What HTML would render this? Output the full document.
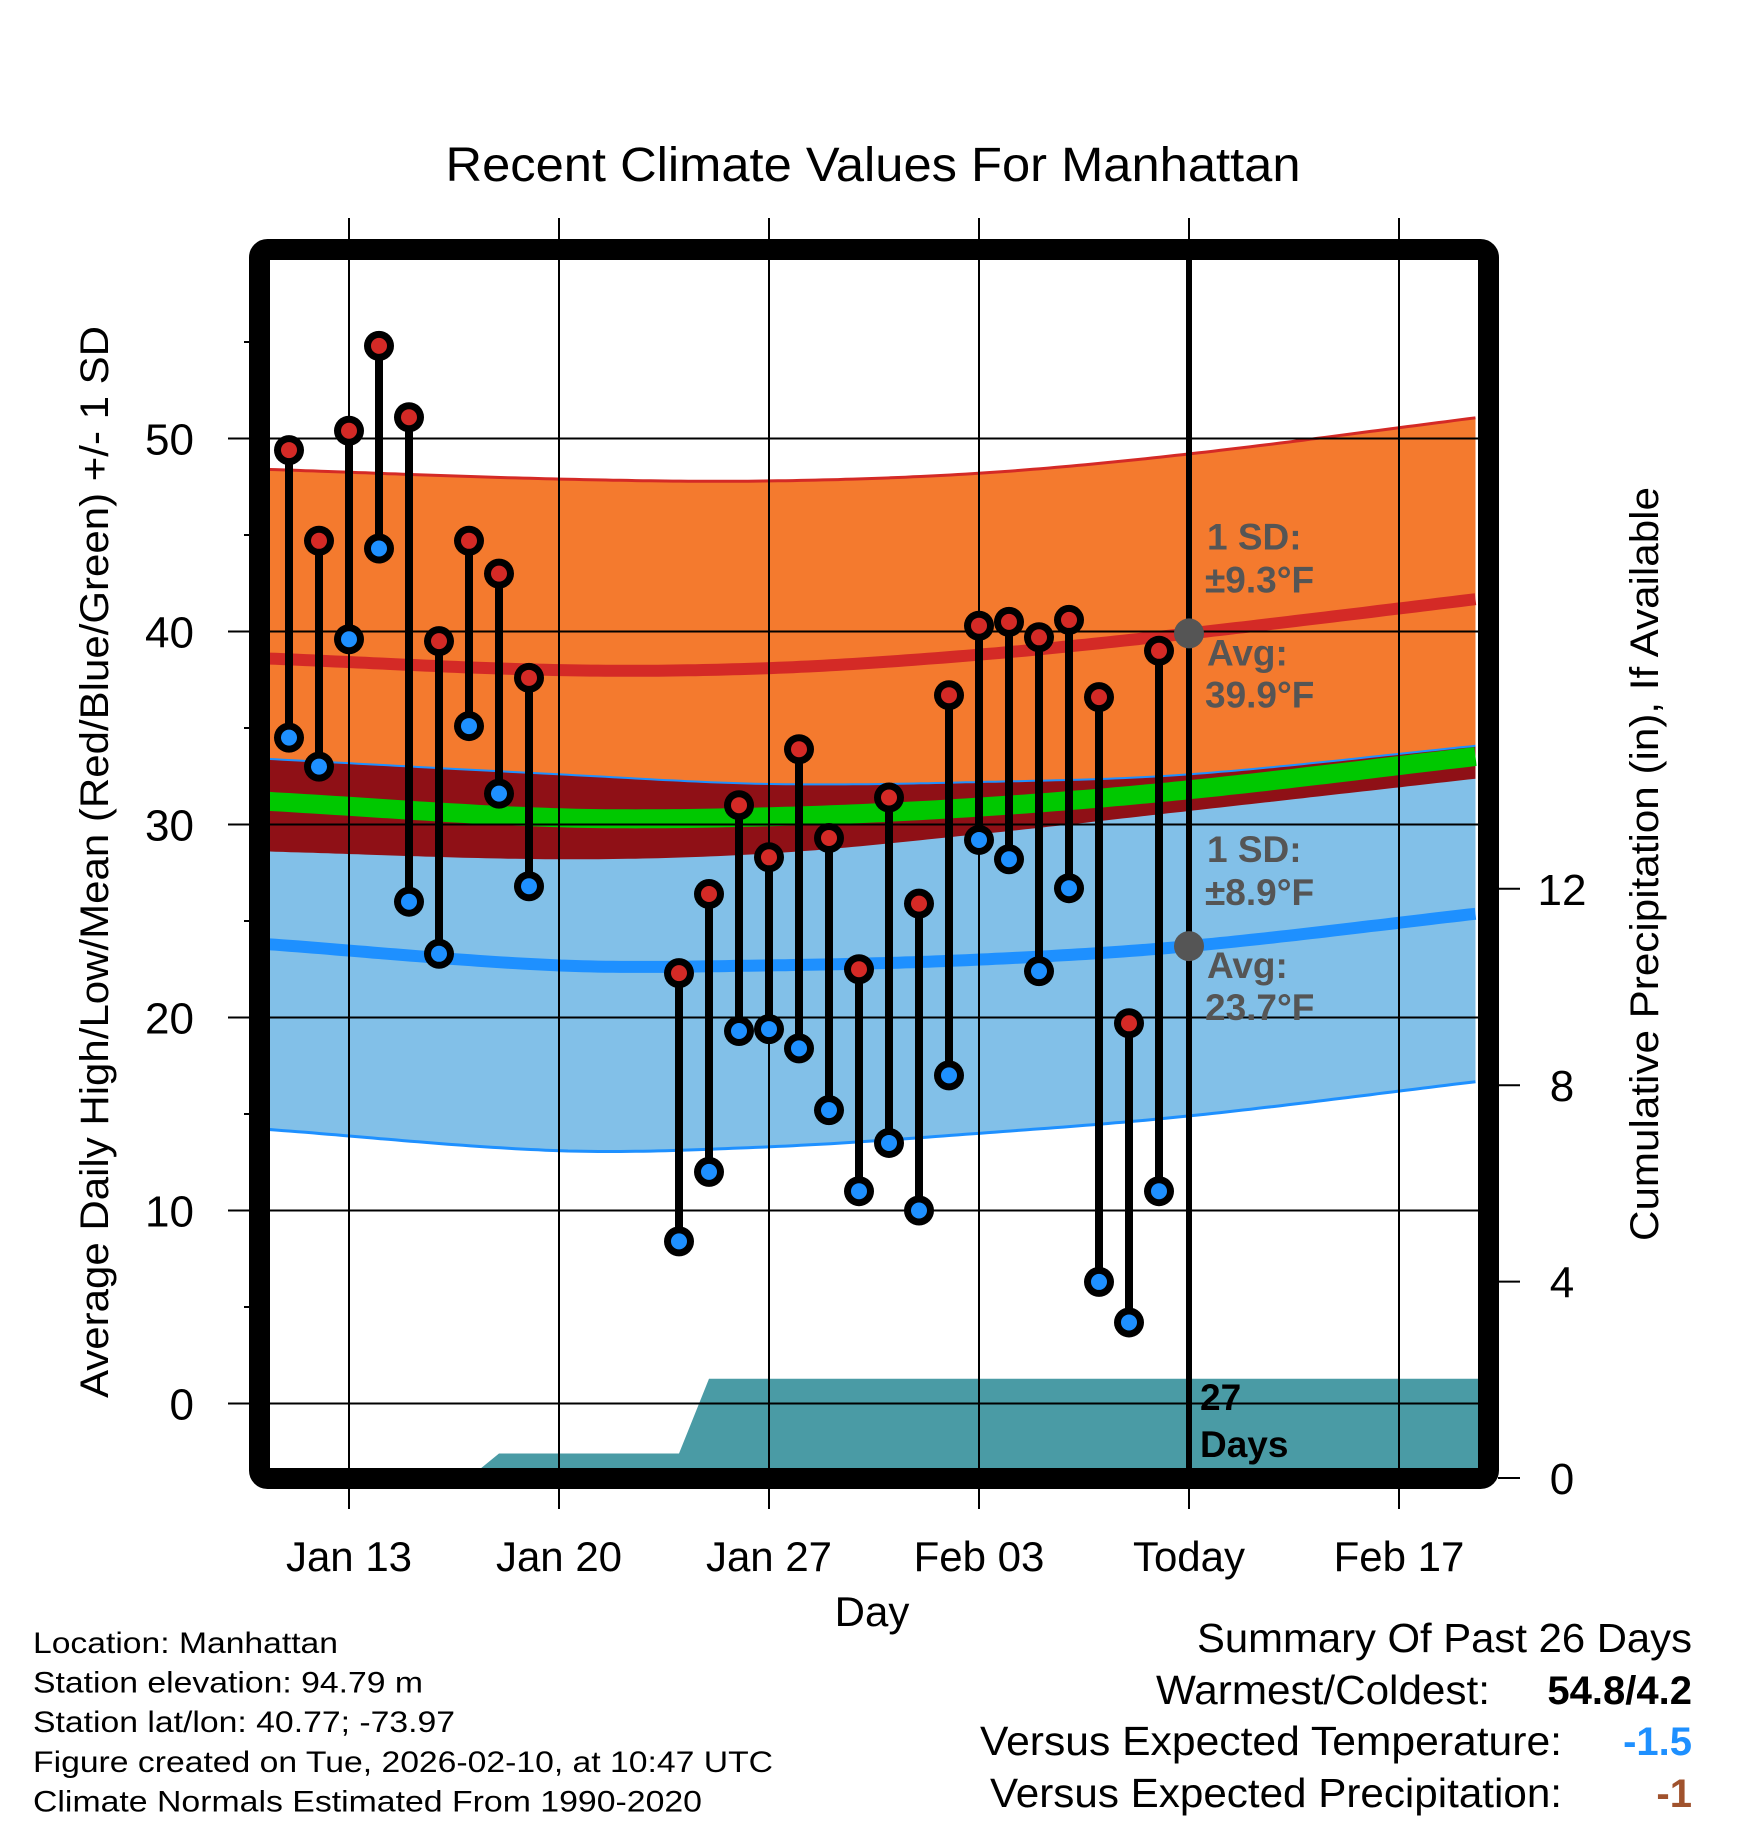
<!DOCTYPE html>
<html><head><meta charset="utf-8">
<style>
html,body{margin:0;padding:0;background:#fff;}
svg{display:block;font-family:"Liberation Sans",Arial,sans-serif;}
</style></head>
<body>
<svg id="chart" width="1748" height="1828" viewBox="0 0 1748 1828" xmlns="http://www.w3.org/2000/svg">
<defs><clipPath id="plotclip"><rect x="270" y="260" width="1208" height="1208"/></clipPath></defs>
<g id="plot" clip-path="url(#plotclip)"></g>
<g id="over"></g>
</svg>
<script>
// ---- data ----
const dayLabels = ["Jan 13","Jan 20","Jan 27","Feb 03","Today","Feb 17"];
const dayLabelIdx = [2,9,16,23,30,37];
const obsDays = [0,1,2,3,4,5,6,7,8,13,14,15,16,17,18,19,20,21,22,23,24,25,26,27,28,29];
const highs = [49.4,44.7,50.4,54.8,51.1,39.5,44.7,43.0,37.6,22.3,26.4,31.0,28.3,33.9,29.3,22.5,31.4,25.9,36.7,40.3,40.5,39.7,40.6,36.6,19.7,39.0];
const lows  = [34.5,33.0,39.6,44.3,26.0,23.3,35.1,31.6,26.8,8.4,12.0,19.3,19.4,18.4,15.2,11.0,13.5,10.0,17.0,29.2,28.2,22.4,26.7,6.3,4.2,11.0];
const normDays  = [-0.7,9,16,23,30,39.7];
const normHigh  = [38.6,38.0,38.1,38.8,39.9,41.7];
const highUpper = [48.4,47.9,47.8,48.2,49.2,51.1];
const highLower = [28.6,28.2,28.5,29.5,30.7,32.4];
const normLow   = [23.8,22.7,22.7,23.0,23.7,25.4];
const lowUpper  = [33.4,32.6,32.1,32.2,32.6,34.1];
const lowLower  = [14.2,13.1,13.3,14.0,14.9,16.7];
const precipDays = [-0.7,6,7,13,14,39.7];
const precipCum  = [0,0,0.5,0.5,2.02,2.02];
const yTicks = [0,10,20,30,40,50];
const pTicks = [0,4,8,12];

// ---- scales ----
const X = d => 289 + 30*d;
const Y = v => 1403.5 - 19.3*v;
const P = v => 1478 - 49.1*v;
const NS = "http://www.w3.org/2000/svg";
const plot = document.getElementById('plot');
const over = document.getElementById('over');
function mk(parent, tag, attrs, text){
  const e = document.createElementNS(NS, tag);
  for (const k in attrs) e.setAttribute(k, attrs[k]);
  if (text !== undefined) e.textContent = text;
  parent.appendChild(e); return e;
}
function interp(xs, ys, d){
  if (d <= xs[0]) return ys[0];
  for (let i=1;i<xs.length;i++) if (d <= xs[i]) { const t=(d-xs[i-1])/(xs[i]-xs[i-1]); return ys[i-1]+t*(ys[i]-ys[i-1]); }
  return ys[ys.length-1];
}
// smooth (Catmull-Rom style Hermite) interpolation
function smooth(xs, ys, d){
  const n = xs.length;
  let i = 1; while (i < n-1 && d > xs[i]) i++;
  const x0=xs[i-1], x1=xs[i], y0=ys[i-1], y1=ys[i];
  const slope = k => {
    if (k===0) return (ys[1]-ys[0])/(xs[1]-xs[0]);
    if (k===n-1) return (ys[n-1]-ys[n-2])/(xs[n-1]-xs[n-2]);
    return (ys[k+1]-ys[k-1])/(xs[k+1]-xs[k-1]);
  };
  const h = x1-x0, t = Math.max(0,Math.min(1,(d-x0)/h));
  const m0 = slope(i-1)*h, m1 = slope(i)*h;
  const t2=t*t, t3=t2*t;
  return (2*t3-3*t2+1)*y0 + (t3-2*t2+t)*m0 + (-2*t3+3*t2)*y1 + (t3-t2)*m1;
}
const samples = []; for (let d=-0.7; d<=39.75; d+=0.25) samples.push(d);
const F = arr => d => smooth(normDays, arr, d);
const hm = F(normHigh), lm = F(normLow), hu = F(highUpper), hl = F(highLower), lu = F(lowUpper), ll = F(lowLower);
function band(f1, f2){
  let s = samples.map((d,i)=>(i?'L':'M')+X(d).toFixed(1)+','+Y(f1(d)).toFixed(1)).join('');
  s += samples.slice().reverse().map(d=>'L'+X(d).toFixed(1)+','+Y(f2(d)).toFixed(1)).join('');
  return s+'Z';
}
function line(f){ return samples.map((d,i)=>(i?'L':'M')+X(d).toFixed(1)+','+Y(f(d)).toFixed(1)).join(''); }

let e;
e = mk(plot,'path',{d:band(hu,hl),fill:'#f47a2e'});
 
e = mk(plot,'path',{d:band(lu,ll),fill:'#82c0e8'});
 
e = mk(plot,'path',{d:band(lu,hl),fill:'#8f1016'});
 
e = mk(plot,'path',{d:line(hu),fill:'none',stroke:'#d42a26','stroke-width':3});
 
e = mk(plot,'path',{d:line(lu),fill:'none',stroke:'#1e90ff','stroke-width':2});
 
e = mk(plot,'path',{d:line(ll),fill:'none',stroke:'#1e90ff','stroke-width':3});
 
e = mk(plot,'path',{d:line(d=>(hm(d)+lm(d))/2),fill:'none',stroke:'#00c800','stroke-width':19});
 
e = mk(plot,'path',{d:line(hm),fill:'none',stroke:'#d42a26','stroke-width':12});
 
e = mk(plot,'path',{d:line(lm),fill:'none',stroke:'#1e90ff','stroke-width':12});
 

// precip area
let pd = 'M'+X(precipDays[0])+','+P(0);
precipDays.forEach((d,i)=>{ pd += 'L'+X(d).toFixed(1)+','+P(precipCum[i]).toFixed(1); });
pd += 'L'+X(precipDays[precipDays.length-1])+','+P(0)+'Z';
e = mk(plot,'path',{d:pd,fill:'#4a9ba5'});
 

// gridlines
yTicks.forEach(v=>{
  e = mk(plot,'line',{x1:270,x2:1478,y1:Y(v),y2:Y(v),stroke:'#000','stroke-width':2});
   
});
dayLabelIdx.forEach((d,i)=>{
  if (dayLabels[i]==='Today') return;
  e = mk(plot,'line',{x1:X(d),x2:X(d),y1:260,y2:1468,stroke:'#000','stroke-width':2});
   
});

// stems & markers
obsDays.forEach((d,i)=>{
  e = mk(plot,'line',{x1:X(d),x2:X(d),y1:Y(highs[i]),y2:Y(lows[i]),stroke:'#000','stroke-width':8});
   
});
obsDays.forEach((d,i)=>{
  [[highs[i],'#d42a26','high-point'],[lows[i],'#1e90ff','low-point']].forEach(([v,c,n])=>{
    const g = mk(plot,'g',{});
     
    mk(g,'circle',{cx:X(d),cy:Y(v),r:15,fill:'#000'});
    mk(g,'circle',{cx:X(d),cy:Y(v),r:8,fill:c});
  });
});

// today line and markers
const todayIdx = 30;
e = mk(plot,'line',{x1:X(todayIdx),x2:X(todayIdx),y1:260,y2:1468,stroke:'#000','stroke-width':6});
 
[hm(todayIdx), lm(todayIdx)].forEach(v=>{
  e = mk(plot,'circle',{cx:X(todayIdx),cy:Y(v),r:15,fill:'#555'});
   
});
function lbl(parent,x,y,txt,attrs,name){
  const t = mk(parent,'text',Object.assign({x:x,y:y},attrs),txt);
    return t;
}
const ga = {fill:'#555','font-size':37,'font-weight':'bold'};
const hy = Y(hm(todayIdx)), ly = Y(lm(todayIdx));
lbl(plot,1207,hy-84,'1 SD:',ga,'high-sd-label');
lbl(plot,1205,hy-41,'±9.3°F',ga,'high-sd-value');
lbl(plot,1207,hy+32,'Avg:',ga,'high-avg-label');
lbl(plot,1205,hy+74,'39.9°F',ga,'high-avg-value');
lbl(plot,1207,ly-84,'1 SD:',ga,'low-sd-label');
lbl(plot,1205,ly-41,'±8.9°F',ga,'low-sd-value');
lbl(plot,1207,ly+32,'Avg:',ga,'low-avg-label');
lbl(plot,1205,ly+74,'23.7°F',ga,'low-avg-value');
lbl(plot,1200,1410,'27',{fill:'#000','font-size':37,'font-weight':'bold'},'days-count');
lbl(plot,1200,1457,'Days',{fill:'#000','font-size':37,'font-weight':'bold'},'days-label');

// frame
e = mk(over,'rect',{x:259.5,y:249.5,width:1229,height:1229,fill:'none',stroke:'#000','stroke-width':21,rx:8});
 

yTicks.forEach(v=>{
  e = mk(over,'line',{x1:228,x2:250,y1:Y(v),y2:Y(v),stroke:'#000','stroke-width':2});
   
  lbl(over,194,Y(v)+16,String(v),{'font-size':44,'text-anchor':'end'},'y-tick-label');
  const m = v+5;
  e = mk(over,'line',{x1:244,x2:250,y1:Y(m),y2:Y(m),stroke:'#000','stroke-width':2});
   
});
pTicks.forEach(v=>{
  e = mk(over,'line',{x1:1498,x2:1520,y1:P(v),y2:P(v),stroke:'#000','stroke-width':2});
   
  lbl(over,1562,P(v)+16,String(v),{'font-size':44,'text-anchor':'middle'},'precip-tick-label');
});
dayLabelIdx.forEach((d,i)=>{
  e = mk(over,'line',{x1:X(d),x2:X(d),y1:218,y2:240,stroke:'#000','stroke-width':2});
   
  e = mk(over,'line',{x1:X(d),x2:X(d),y1:1488,y2:1509,stroke:'#000','stroke-width':2});
   
  lbl(over,X(d),1571,dayLabels[i],{'font-size':42,'text-anchor':'middle'},'x-tick-label');
});
</script>
<script>
const s = document.getElementById('chart');
const NS2 = "http://www.w3.org/2000/svg";
function T(x,y,txt,attrs,name){
  const t = document.createElementNS(NS2,'text');
  t.setAttribute('x',x); t.setAttribute('y',y);
  for (const k in attrs) t.setAttribute(k,attrs[k]);
  t.textContent = txt;
  
  
  s.appendChild(t); return t;
}
const LA = 'spacingAndGlyphs';
T(873,181,'Recent Climate Values For Manhattan',{'font-size':48,'text-anchor':'middle',textLength:855,lengthAdjust:LA},'chart-title');
T(872,1626,'Day',{'font-size':42,'text-anchor':'middle'},'x-axis-title');
T(0,0,'Average Daily High/Low/Mean (Red/Blue/Green) +/- 1 SD',{'font-size':40,'text-anchor':'middle',transform:'translate(108,862) rotate(-90)',textLength:1072,lengthAdjust:LA},'y-axis-title');
T(0,0,'Cumulative Precipitation (in), If Available',{'font-size':40,'text-anchor':'middle',transform:'translate(1658,864) rotate(-90)',textLength:754,lengthAdjust:LA},'precip-axis-title');
const info = ['Location: Manhattan','Station elevation: 94.79 m','Station lat/lon: 40.77; -73.97','Figure created on Tue, 2026-02-10, at 10:47 UTC','Climate Normals Estimated From 1990-2020'];
const infoW = [305,390,422,740,669];
info.forEach((t,i)=>T(33,1653+i*39.6,t,{'font-size':30,textLength:infoW[i],lengthAdjust:LA},'station-info-line'));
T(1197,1652,'Summary Of Past 26 Days',{'font-size':41,textLength:495,lengthAdjust:LA},'summary-title');
T(1156,1704,'Warmest/Coldest:',{'font-size':41,textLength:334,lengthAdjust:LA},'warmest-coldest-label');
T(1692,1704,'54.8/4.2',{'font-size':40,'text-anchor':'end','font-weight':'bold'},'warmest-coldest-value');
T(980,1755,'Versus Expected Temperature:',{'font-size':41,textLength:582,lengthAdjust:LA},'temp-anomaly-label');
T(1692,1755,'-1.5',{'font-size':40,'text-anchor':'end','font-weight':'bold',fill:'#1e90ff'},'temp-anomaly-value');
T(990,1807,'Versus Expected Precipitation:',{'font-size':41,textLength:572,lengthAdjust:LA},'precip-anomaly-label');
T(1692,1807,'-1',{'font-size':40,'text-anchor':'end','font-weight':'bold',fill:'#a0522d'},'precip-anomaly-value');
</script>
</body></html>
